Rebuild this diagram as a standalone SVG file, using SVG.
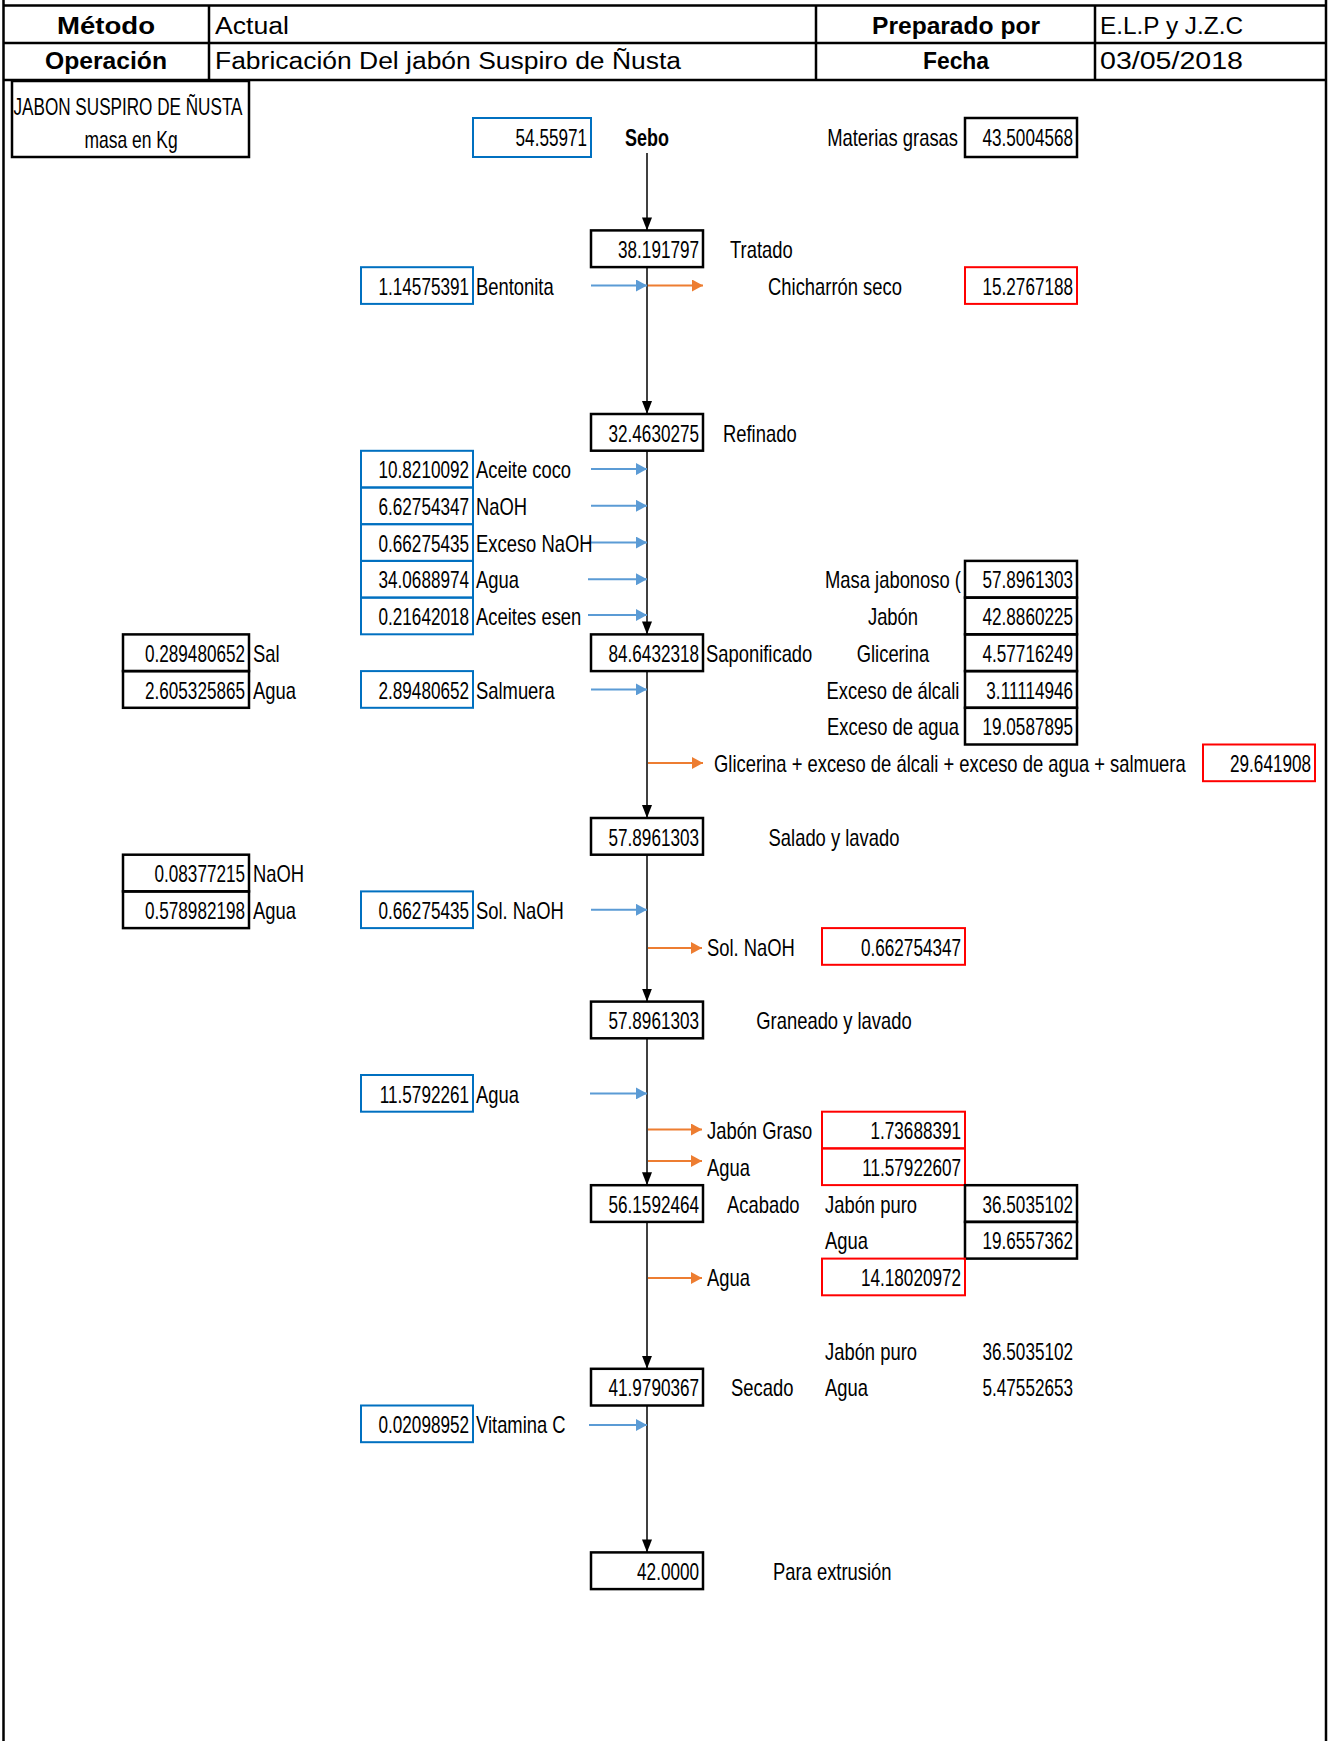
<svg xmlns="http://www.w3.org/2000/svg" width="1329" height="1741" viewBox="0 0 1329 1741">
<style>
.t{font-family:"Liberation Sans",Arial,sans-serif;font-size:23px;fill:#000}
.h{font-family:"Liberation Sans",Arial,sans-serif;font-size:23px;fill:#000}
.e{text-anchor:end}
.m{text-anchor:middle}
.b{font-weight:bold}
.kb{fill:none;stroke:#000;stroke-width:2.5}
.bl{fill:none;stroke:#0070C0;stroke-width:2}
.rd{fill:none;stroke:#FF0000;stroke-width:2}
.fr{stroke:#000;stroke-width:2.5;fill:none}
.ck{stroke:#000;stroke-width:1.5;fill:none}
.cb{stroke:#5B9BD5;stroke-width:2;fill:none}
.co{stroke:#ED7D31;stroke-width:2;fill:none}
</style>
<defs>
<marker id="ak" viewBox="0 0 10 10" refX="10" refY="5" markerWidth="13" markerHeight="10" markerUnits="userSpaceOnUse" orient="auto" preserveAspectRatio="none"><path d="M0,0L10,5L0,10z" fill="#000"/></marker>
<marker id="ab" viewBox="0 0 10 10" refX="10" refY="5" markerWidth="11" markerHeight="12" markerUnits="userSpaceOnUse" orient="auto" preserveAspectRatio="none"><path d="M0,0L10,5L0,10z" fill="#5B9BD5"/></marker>
<marker id="ao" viewBox="0 0 10 10" refX="10" refY="5" markerWidth="11" markerHeight="12" markerUnits="userSpaceOnUse" orient="auto" preserveAspectRatio="none"><path d="M0,0L10,5L0,10z" fill="#ED7D31"/></marker>
</defs>
<rect x="0" y="0" width="1329" height="1741" fill="#fff"/>

<g id="frame">
<path class="fr" d="M3.5,0V1741M1326,0V1741M3,5.5H1327M3,43H1327M3,80H1327M209,5.5V80M816,5.5V80M1095,5.5V80"/>
<text class="h b m" x="106" y="33.5" textLength="98" lengthAdjust="spacingAndGlyphs">Método</text>
<text class="h" x="215" y="33.5" textLength="74" lengthAdjust="spacingAndGlyphs">Actual</text>
<text class="h b m" x="956" y="33.5" textLength="168" lengthAdjust="spacingAndGlyphs">Preparado por</text>
<text class="h" x="1100" y="33.5" textLength="143" lengthAdjust="spacingAndGlyphs">E.L.P y J.Z.C</text>
<text class="h b m" x="106" y="69" textLength="122" lengthAdjust="spacingAndGlyphs">Operación</text>
<text class="h" x="215" y="69" textLength="466" lengthAdjust="spacingAndGlyphs">Fabricación Del jabón Suspiro de Ñusta</text>
<text class="h b m" x="956" y="69" textLength="66" lengthAdjust="spacingAndGlyphs">Fecha</text>
<text class="h" x="1100" y="69" textLength="143" lengthAdjust="spacingAndGlyphs">03/05/2018</text>
</g>

<g id="title">
<rect class="kb" x="12" y="81" width="237" height="76"/>
<text class="t m" transform="translate(128 115) scale(.745 1)">JABON SUSPIRO DE ÑUSTA</text>
<text class="t m" transform="translate(131 148) scale(.76 1)">masa en Kg</text>
</g>

<g id="connectors">
<path class="ck" marker-end="url(#ak)" d="M647,153V230.4"/>
<path class="ck" marker-end="url(#ak)" d="M647,267.2V414"/>
<path class="ck" marker-end="url(#ak)" d="M647,450.8V634.4"/>
<path class="ck" marker-end="url(#ak)" d="M647,671.1V818"/>
<path class="ck" marker-end="url(#ak)" d="M647,854.7V1001.6"/>
<path class="ck" marker-end="url(#ak)" d="M647,1038.3V1185.2"/>
<path class="ck" marker-end="url(#ak)" d="M647,1221.9V1368.8"/>
<path class="ck" marker-end="url(#ak)" d="M647,1405.5V1552.4"/>
<path class="cb" marker-end="url(#ab)" d="M591,285.5H647"/>
<path class="cb" marker-end="url(#ab)" d="M591,469.1H647"/>
<path class="cb" marker-end="url(#ab)" d="M591,505.8H647"/>
<path class="cb" marker-end="url(#ab)" d="M587,542.6H647"/>
<path class="cb" marker-end="url(#ab)" d="M588,579.3H647"/>
<path class="cb" marker-end="url(#ab)" d="M588,615H647"/>
<path class="cb" marker-end="url(#ab)" d="M591,689.4H647"/>
<path class="cb" marker-end="url(#ab)" d="M591,909.8H647"/>
<path class="cb" marker-end="url(#ab)" d="M590,1093.4H647"/>
<path class="cb" marker-end="url(#ab)" d="M589,1425H647"/>
<path class="co" marker-end="url(#ao)" d="M648,285.5H703"/>
<path class="co" marker-end="url(#ao)" d="M648,763H703"/>
<path class="co" marker-end="url(#ao)" d="M648,948H702"/>
<path class="co" marker-end="url(#ao)" d="M648,1129.5H702"/>
<path class="co" marker-end="url(#ao)" d="M648,1161H702"/>
<path class="co" marker-end="url(#ao)" d="M648,1278H702"/>
</g>

<g id="sebo">
<rect class="bl" x="473" y="118" width="118" height="39"/>
<text class="t e" transform="translate(587 145.5) scale(.745 1)">54.55971</text>
<text class="t m b" transform="translate(647 145.5) scale(.78 1)">Sebo</text>
<text class="t e" transform="translate(958 145.5) scale(.8 1)">Materias grasas</text>
<rect class="kb" x="965" y="118" width="112" height="39"/>
<text class="t e" transform="translate(1073 145.5) scale(.745 1)">43.5004568</text>
</g>

<g id="tratado">
<rect class="kb" x="591" y="230.4" width="112" height="36.7"/>
<text class="t e" transform="translate(699 258) scale(.745 1)">38.191797</text>
<text class="t" transform="translate(730 258) scale(.8 1)">Tratado</text>
</g>
<g id="bentonita">
<rect class="bl" x="361" y="267.2" width="112" height="36.7"/>
<text class="t e" transform="translate(469 294.7) scale(.745 1)">1.14575391</text>
<text class="t" transform="translate(476 294.7) scale(.8 1)">Bentonita</text>
</g>
<g id="chicharron">
<text class="t m" transform="translate(835 294.7) scale(.8 1)">Chicharrón seco</text>
<rect class="rd" x="965" y="267.2" width="112" height="36.7"/>
<text class="t e" transform="translate(1073 294.7) scale(.745 1)">15.2767188</text>
</g>

<g id="refinado">
<rect class="kb" x="591" y="414" width="112" height="36.7"/>
<text class="t e" transform="translate(699 441.6) scale(.745 1)">32.4630275</text>
<text class="t" transform="translate(723 441.6) scale(.8 1)">Refinado</text>
</g>

<g id="inputs-refinado">
<rect class="bl" x="361" y="450.8" width="112" height="36.7"/>
<text class="t e" transform="translate(469 478.3) scale(.745 1)">10.8210092</text>
<text class="t" transform="translate(476 478.3) scale(.8 1)">Aceite coco</text>
<rect class="bl" x="361" y="487.5" width="112" height="36.7"/>
<text class="t e" transform="translate(469 515) scale(.745 1)">6.62754347</text>
<text class="t" transform="translate(476 515) scale(.8 1)">NaOH</text>
<rect class="bl" x="361" y="524.2" width="112" height="36.7"/>
<text class="t e" transform="translate(469 551.7) scale(.745 1)">0.66275435</text>
<text class="t" transform="translate(476 551.7) scale(.8 1)">Exceso NaOH</text>
<rect class="bl" x="361" y="560.9" width="112" height="36.7"/>
<text class="t e" transform="translate(469 588.4) scale(.745 1)">34.0688974</text>
<text class="t" transform="translate(476 588.4) scale(.8 1)">Agua</text>
<rect class="bl" x="361" y="597.6" width="112" height="36.7"/>
<text class="t e" transform="translate(469 625.1) scale(.745 1)">0.21642018</text>
<text class="t" transform="translate(476 625.1) scale(.8 1)">Aceites esen</text>
</g>

<g id="composicion">
<text class="t m" transform="translate(893 588.4) scale(.8 1)">Masa jabonoso (</text>
<rect class="kb" x="965" y="560.9" width="112" height="36.7"/>
<text class="t e" transform="translate(1073 588.4) scale(.745 1)">57.8961303</text>
<text class="t m" transform="translate(893 625.1) scale(.8 1)">Jabón</text>
<rect class="kb" x="965" y="597.6" width="112" height="36.7"/>
<text class="t e" transform="translate(1073 625.1) scale(.745 1)">42.8860225</text>
<text class="t m" transform="translate(893 661.9) scale(.8 1)">Glicerina</text>
<rect class="kb" x="965" y="634.4" width="112" height="36.7"/>
<text class="t e" transform="translate(1073 661.9) scale(.745 1)">4.57716249</text>
<text class="t m" transform="translate(893 698.6) scale(.8 1)">Exceso de álcali</text>
<rect class="kb" x="965" y="671.1" width="112" height="36.7"/>
<text class="t e" transform="translate(1073 698.6) scale(.745 1)">3.11114946</text>
<text class="t m" transform="translate(893 735.3) scale(.8 1)">Exceso de agua</text>
<rect class="kb" x="965" y="707.8" width="112" height="36.7"/>
<text class="t e" transform="translate(1073 735.3) scale(.745 1)">19.0587895</text>
</g>

<g id="saponificado">
<rect class="kb" x="591" y="634.4" width="112" height="36.7"/>
<text class="t e" transform="translate(699 661.9) scale(.745 1)">84.6432318</text>
<text class="t" transform="translate(706 661.9) scale(.8 1)">Saponificado</text>
</g>

<g id="salmuera-calc">
<rect class="kb" x="123" y="634.4" width="126" height="36.7"/>
<text class="t e" transform="translate(245 661.9) scale(.745 1)">0.289480652</text>
<text class="t" transform="translate(253 661.9) scale(.8 1)">Sal</text>
<rect class="kb" x="123" y="671.1" width="126" height="36.7"/>
<text class="t e" transform="translate(245 698.6) scale(.745 1)">2.605325865</text>
<text class="t" transform="translate(253 698.6) scale(.8 1)">Agua</text>
</g>
<g id="salmuera">
<rect class="bl" x="361" y="671.1" width="112" height="36.7"/>
<text class="t e" transform="translate(469 698.6) scale(.745 1)">2.89480652</text>
<text class="t" transform="translate(476 698.6) scale(.8 1)">Salmuera</text>
</g>

<g id="residuo-saponificado">
<text class="t" transform="translate(714 772) scale(.8 1)">Glicerina + exceso de álcali + exceso de agua + salmuera</text>
<rect class="rd" x="1203" y="744.5" width="112" height="36.7"/>
<text class="t e" transform="translate(1311 772) scale(.745 1)">29.641908</text>
</g>

<g id="salado">
<rect class="kb" x="591" y="818" width="112" height="36.7"/>
<text class="t e" transform="translate(699 845.5) scale(.745 1)">57.8961303</text>
<text class="t m" transform="translate(834 845.5) scale(.8 1)">Salado y lavado</text>
</g>

<g id="solucion-calc">
<rect class="kb" x="123" y="854.7" width="126" height="36.7"/>
<text class="t e" transform="translate(245 882.2) scale(.745 1)">0.08377215</text>
<text class="t" transform="translate(253 882.2) scale(.8 1)">NaOH</text>
<rect class="kb" x="123" y="891.4" width="126" height="36.7"/>
<text class="t e" transform="translate(245 918.9) scale(.745 1)">0.578982198</text>
<text class="t" transform="translate(253 918.9) scale(.8 1)">Agua</text>
</g>
<g id="sol-naoh-in">
<rect class="bl" x="361" y="891.4" width="112" height="36.7"/>
<text class="t e" transform="translate(469 918.9) scale(.745 1)">0.66275435</text>
<text class="t" transform="translate(476 918.9) scale(.8 1)">Sol. NaOH</text>
</g>
<g id="sol-naoh-out">
<text class="t" transform="translate(707 955.6) scale(.8 1)">Sol. NaOH</text>
<rect class="rd" x="822" y="928.1" width="143" height="36.7"/>
<text class="t e" transform="translate(961 955.6) scale(.745 1)">0.662754347</text>
</g>

<g id="graneado">
<rect class="kb" x="591" y="1001.6" width="112" height="36.7"/>
<text class="t e" transform="translate(699 1029.1) scale(.745 1)">57.8961303</text>
<text class="t m" transform="translate(834 1029.1) scale(.8 1)">Graneado y lavado</text>
</g>
<g id="agua-in">
<rect class="bl" x="361" y="1075" width="112" height="36.7"/>
<text class="t e" transform="translate(469 1102.5) scale(.745 1)">11.5792261</text>
<text class="t" transform="translate(476 1102.5) scale(.8 1)">Agua</text>
</g>
<g id="graneado-out">
<text class="t" transform="translate(707 1139.2) scale(.8 1)">Jabón Graso</text>
<rect class="rd" x="822" y="1111.7" width="143" height="36.7"/>
<text class="t e" transform="translate(961 1139.2) scale(.745 1)">1.73688391</text>
<text class="t" transform="translate(707 1175.9) scale(.8 1)">Agua</text>
<rect class="rd" x="822" y="1148.4" width="143" height="36.7"/>
<text class="t e" transform="translate(961 1175.9) scale(.745 1)">11.57922607</text>
</g>

<g id="acabado">
<rect class="kb" x="591" y="1185.2" width="112" height="36.7"/>
<text class="t e" transform="translate(699 1212.7) scale(.745 1)">56.1592464</text>
<text class="t" transform="translate(727 1212.7) scale(.8 1)">Acabado</text>
<text class="t" transform="translate(825 1212.7) scale(.8 1)">Jabón puro</text>
<rect class="kb" x="965" y="1185.2" width="112" height="36.7"/>
<text class="t e" transform="translate(1073 1212.7) scale(.745 1)">36.5035102</text>
<text class="t" transform="translate(825 1249.4) scale(.8 1)">Agua</text>
<rect class="kb" x="965" y="1221.9" width="112" height="36.7"/>
<text class="t e" transform="translate(1073 1249.4) scale(.745 1)">19.6557362</text>
</g>
<g id="acabado-out">
<text class="t" transform="translate(707 1286.1) scale(.8 1)">Agua</text>
<rect class="rd" x="822" y="1258.6" width="143" height="36.7"/>
<text class="t e" transform="translate(961 1286.1) scale(.745 1)">14.18020972</text>
</g>

<g id="secado">
<text class="t" transform="translate(825 1359.5) scale(.8 1)">Jabón puro</text>
<text class="t e" transform="translate(1073 1359.5) scale(.745 1)">36.5035102</text>
<rect class="kb" x="591" y="1368.8" width="112" height="36.7"/>
<text class="t e" transform="translate(699 1396.3) scale(.745 1)">41.9790367</text>
<text class="t" transform="translate(731 1396.3) scale(.8 1)">Secado</text>
<text class="t" transform="translate(825 1396.3) scale(.8 1)">Agua</text>
<text class="t e" transform="translate(1073 1396.3) scale(.745 1)">5.47552653</text>
</g>
<g id="vitamina">
<rect class="bl" x="361" y="1405.5" width="112" height="36.7"/>
<text class="t e" transform="translate(469 1433) scale(.745 1)">0.02098952</text>
<text class="t" transform="translate(476 1433) scale(.8 1)">Vitamina C</text>
</g>

<g id="extrusion">
<rect class="kb" x="591" y="1552.4" width="112" height="36.7"/>
<text class="t e" transform="translate(699 1579.9) scale(.745 1)">42.0000</text>
<text class="t" transform="translate(773 1579.9) scale(.8 1)">Para extrusión</text>
</g>
</svg>
